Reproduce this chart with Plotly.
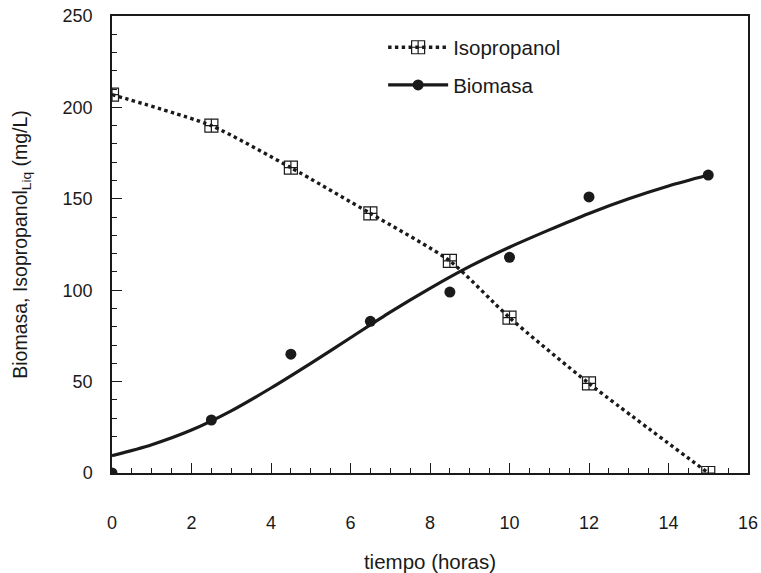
import plotly.graph_objects as go

# Sampling times (hours)
tiempo = [0, 2.5, 4.5, 6.5, 8.5, 10, 12, 15]

# Measured liquid-phase isopropanol (mg/L)
isopropanol = [207, 190, 167, 142, 116, 85, 49, 0]

# Measured biomass (mg/L)
biomasa = [0, 29, 65, 83, 99, 118, 151, 163]

# Fitted biomass growth curve
t_ajuste = [0, 1, 2, 3, 4, 5, 6, 7, 8, 9, 10, 11, 12, 13, 14, 15]
biomasa_ajuste = [9.5, 15.5, 23.5, 34, 46.5, 60, 74, 88, 101, 113, 123.5, 133, 142, 150, 157, 163]

x_ticks = [0, 2, 4, 6, 8, 10, 12, 14, 16]
y_ticks = [0, 50, 100, 150, 200, 250]

ink = "#1a1a1a"
font_family = "Liberation Sans, Arial, sans-serif"

fig = go.Figure()

fig.add_trace(go.Scatter(
    x=tiempo, y=isopropanol,
    mode="lines+markers",
    name="Isopropanol",
    legendgroup="a",
    line=dict(color=ink, width=3.4, dash="dot", shape="spline", smoothing=0.6),
    marker=dict(symbol="square-cross-open", size=13, color=ink,
                line=dict(width=1.2, color=ink)),
))

fig.add_trace(go.Scatter(
    x=t_ajuste, y=biomasa_ajuste,
    mode="lines",
    showlegend=False,
    line=dict(color=ink, width=3.2, shape="spline", smoothing=0.8),
    hoverinfo="skip",
))

fig.add_trace(go.Scatter(
    x=tiempo, y=biomasa,
    mode="markers",
    showlegend=False,
    marker=dict(symbol="circle", size=11, color=ink),
))

# Legend entry for Biomasa showing both the fitted line and the marker
fig.add_trace(go.Scatter(
    x=[None], y=[None],
    mode="lines+markers",
    name="Biomasa",
    legendgroup="b",
    line=dict(color=ink, width=3.2),
    marker=dict(symbol="circle", size=11, color=ink),
))

axis_common = dict(
    showgrid=False,
    zeroline=False,
    showline=True,
    linecolor=ink,
    linewidth=1.5,
    mirror=True,
    ticks="inside",
    ticklen=10,
    tickwidth=1.3,
    tickcolor=ink,
    tickfont=dict(family=font_family, size=18, color=ink),
)

fig.update_xaxes(
    **axis_common,
    range=[0, 16],
    tickvals=x_ticks,
    ticklabelstandoff=33,
    minor=dict(dtick=0.5, ticks="inside", ticklen=5, tickwidth=1.2, tickcolor=ink),
    title=dict(text="tiempo (horas)", standoff=23,
               font=dict(family=font_family, size=20.5, color=ink)),
)

fig.update_yaxes(
    **axis_common,
    range=[0, 250],
    tickvals=y_ticks,
    ticklabelstandoff=14,
    minor=dict(dtick=10, ticks="inside", ticklen=5, tickwidth=1.2, tickcolor=ink),
    title=dict(text="Biomasa, Isopropanol<sub>Liq</sub> (mg/L)", standoff=30,
               font=dict(family=font_family, size=19.5, color=ink)),
)

fig.update_layout(
    width=761, height=573,
    margin=dict(l=112, r=13, t=16, b=100, autoexpand=False),
    paper_bgcolor="white",
    plot_bgcolor="white",
    showlegend=True,
    legend=dict(
        x=0.4263, y=0.975, xanchor="left", yanchor="top",
        bgcolor="rgba(0,0,0,0)",
        font=dict(family=font_family, size=20.5, color=ink),
        itemwidth=60,
        tracegroupgap=8,
    ),
)

fig.write_html("out.html")
